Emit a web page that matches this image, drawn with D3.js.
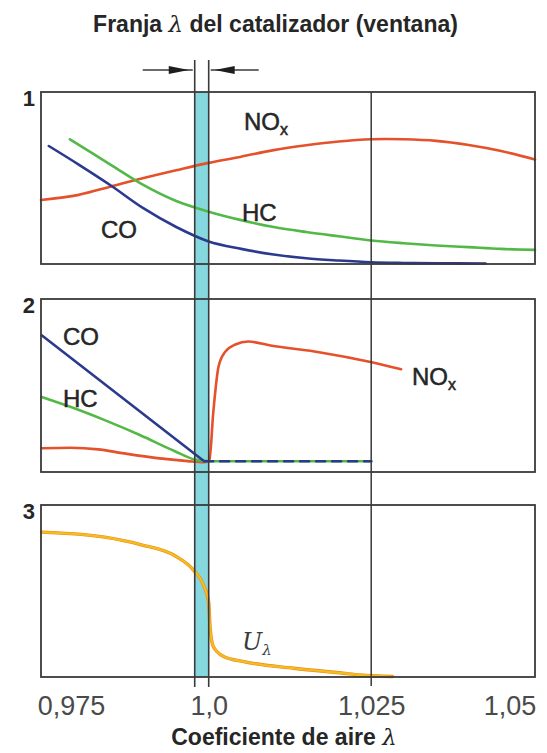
<!DOCTYPE html>
<html>
<head>
<meta charset="utf-8">
<script src="https://cdn.jsdelivr.net/npm/d3@7/dist/d3.min.js"></script>
<style>
  html, body { margin: 0; padding: 0; background: #ffffff; }
  svg { display: block; }
</style>
</head>
<body>
<svg id="chart" width="547" height="753"></svg>
<script>
// Air coefficient lambda: axis ticks and labels
const lambdaTicks = [0.975, 1.0, 1.025, 1.05];
const tickLabels = ["0,975", "1,0", "1,025", "1,05"];
const windowBand = [0.99785, 1.0];
const referenceLambda = 1.025;

// Panel 1: raw emissions before the catalyst (relative units, 0..1)
const p1NOx = [[0.9742,0.372],[0.98,0.402],[0.985,0.451],[0.99,0.500],[0.995,0.545],[1.0,0.588],[1.005,0.624],[1.01,0.662],[1.015,0.690],[1.02,0.712],[1.025,0.725],[1.03,0.725],[1.035,0.716],[1.04,0.692],[1.045,0.657],[1.0502,0.608]];
const p1CO  = [[0.9754,0.686],[0.98,0.578],[0.985,0.455],[0.99,0.323],[0.995,0.215],[1.0,0.131],[1.005,0.088],[1.01,0.055],[1.015,0.033],[1.02,0.020],[1.025,0.010],[1.03,0.006],[1.035,0.004],[1.0426,0.003]];
const p1HC  = [[0.97866,0.725],[0.985,0.575],[0.99,0.458],[0.995,0.366],[1.0,0.304],[1.005,0.255],[1.01,0.215],[1.015,0.186],[1.02,0.161],[1.025,0.137],[1.03,0.121],[1.035,0.108],[1.04,0.098],[1.045,0.088],[1.0502,0.082]];

// Panel 2: emissions after the catalyst
const p2CO      = [[0.9743,0.790],[0.9993,0.062]];
const p2Residue = [[0.9993,0.062],[1.025,0.062]];
const p2HC  = [[0.9743,0.434],[0.9787,0.377],[0.9840,0.300],[0.9894,0.214],[0.9948,0.120],[0.9980,0.070],[1.0,0.062]];
const p2NOx = [[0.9743,0.137],[0.9787,0.140],[0.9830,0.131],[0.9867,0.109],[0.9921,0.080],[0.9968,0.063],[0.9992,0.057],[1.0001,0.065],[1.0007,0.343],[1.0015,0.607],[1.0025,0.693],[1.0041,0.737],[1.0061,0.754],[1.0095,0.731],[1.0172,0.691],[1.0249,0.636],[1.0296,0.594]];

// Panel 3: lambda sensor voltage U
const p3U = [[0.9743,0.842],[0.9840,0.813],[0.9895,0.770],[0.9948,0.705],[0.9977,0.620],[0.9992,0.535],[1.0,0.433],[1.0002,0.294],[1.0007,0.177],[1.0023,0.119],[1.0054,0.089],[1.0131,0.051],[1.0207,0.022],[1.0233,0.012],[1.0283,0.003]];

const colors = { nox: "#e4512b", hc: "#52b947", co: "#2b3a8e", u: "#f2bd1f", uEdge: "#f08a1e", band: "#86d8df", frame: "#3a3a3a", text: "#262626" };

const svg = d3.select("#chart");
const x = d3.scaleLinear().domain([0.9742, 1.0502]).range([41, 535]);

const panels = [
  { id: "1", top: 92, bottom: 264 },
  { id: "2", top: 299, bottom: 472 },
  { id: "3", top: 505, bottom: 677 }
];
panels.forEach(p => { p.y = d3.scaleLinear().domain([0, 1]).range([p.bottom, p.top]); });

// window band, continuous through all three panels
svg.append("rect")
  .attr("x", x(windowBand[0])).attr("y", panels[0].top)
  .attr("width", x(windowBand[1]) - x(windowBand[0]))
  .attr("height", panels[2].bottom - panels[0].top)
  .attr("fill", colors.band);

// curves
function drawCurve(panel, data, color, width, curve, dash) {
  const line = d3.line()
    .x(d => x(d[0]))
    .y(d => panel.y(d[1]))
    .curve(curve);
  const path = svg.append("path")
    .datum(data)
    .attr("d", line)
    .attr("fill", "none")
    .attr("stroke", color)
    .attr("stroke-width", width)
    .attr("stroke-linecap", "round")
    .attr("stroke-linejoin", "round");
  if (dash) path.attr("stroke-dasharray", dash);
  return path;
}
const smooth = d3.curveCatmullRom.alpha(0.5);

drawCurve(panels[0], p1NOx, colors.nox, 2.6, smooth);
drawCurve(panels[0], p1HC, colors.hc, 2.6, smooth);
drawCurve(panels[0], p1CO, colors.co, 2.6, smooth);

drawCurve(panels[1], p2NOx, colors.nox, 2.6, d3.curveMonotoneX);
drawCurve(panels[1], p2HC, colors.hc, 2.6, d3.curveMonotoneX);
drawCurve(panels[1], p2CO, colors.co, 2.6, d3.curveLinear);
drawCurve(panels[1], p2Residue, colors.hc, 2.6, d3.curveLinear);
drawCurve(panels[1], p2Residue, colors.co, 2.6, d3.curveLinear, "9 7");

drawCurve(panels[2], p3U, colors.uEdge, 3.4, d3.curveMonotoneX);
drawCurve(panels[2], p3U, colors.u, 2.2, d3.curveMonotoneX);

// panel frames and numbers
panels.forEach(p => {
  svg.append("rect")
    .attr("x", x.range()[0]).attr("y", p.top)
    .attr("width", x.range()[1] - x.range()[0]).attr("height", p.bottom - p.top)
    .attr("fill", "none").attr("stroke", colors.frame).attr("stroke-width", 1.8);
  svg.append("text")
    .attr("x", 35).attr("y", p.top + 14)
    .attr("text-anchor", "end")
    .attr("font-family", "Liberation Sans, Arial, sans-serif")
    .attr("font-weight", "bold").attr("font-size", 22)
    .attr("fill", colors.text)
    .text(p.id);
});

// window edges and reference line
const topY = 60;
const lastBottom = panels[2].bottom;
windowBand.forEach(l => {
  svg.append("line")
    .attr("x1", x(l)).attr("x2", x(l))
    .attr("y1", topY).attr("y2", lastBottom + 10)
    .attr("stroke", colors.frame).attr("stroke-width", 1.6);
});
svg.append("line")
  .attr("x1", x(referenceLambda)).attr("x2", x(referenceLambda))
  .attr("y1", panels[0].top).attr("y2", lastBottom + 9)
  .attr("stroke", colors.frame).attr("stroke-width", 1.5);

// window arrows
const arrowY = 70;
function arrow(xTip, xTail) {
  const dir = Math.sign(xTip - xTail);
  svg.append("line")
    .attr("x1", xTail).attr("x2", xTip + dir * 4)
    .attr("y1", arrowY).attr("y2", arrowY)
    .attr("stroke", colors.frame).attr("stroke-width", 1.4);
  svg.append("path")
    .attr("d", `M${xTip},${arrowY} L${xTip - dir * 20},${arrowY - 4} L${xTip - dir * 20},${arrowY + 4} Z`)
    .attr("fill", "#1e1e1e");
}
arrow(x(windowBand[0]) - 6, x(windowBand[0]) - 52);
arrow(x(windowBand[1]) + 6, x(windowBand[1]) + 50);

// bottom axis
const axis = d3.axisBottom(x)
  .tickValues(lambdaTicks)
  .tickFormat((d, i) => tickLabels[i])
  .tickSize(0);
const gAxis = svg.append("g").call(axis);
gAxis.select(".domain").remove();
gAxis.selectAll(".tick text")
  .attr("y", 715).attr("dy", 0)
  .attr("font-family", "Liberation Sans, Arial, sans-serif")
  .attr("font-size", 27)
  .attr("fill", "#4a4a4a")
  .attr("text-anchor", (d, i) => i === 0 ? "start" : (i === lambdaTicks.length - 1 ? "end" : "middle"))
  .attr("dx", (d, i) => i === 0 ? -9 : (i === lambdaTicks.length - 1 ? 2 : 0));

// titles
function titleText(xc, y, before, after) {
  const t = svg.append("text")
    .attr("x", xc).attr("y", y)
    .attr("text-anchor", "middle")
    .attr("font-family", "Liberation Sans, Arial, sans-serif")
    .attr("font-weight", "bold").attr("font-size", 23)
    .attr("fill", colors.text);
  t.append("tspan").text(before);
  t.append("tspan").attr("font-family", "DejaVu Serif, serif").attr("font-style", "italic")
    .attr("font-weight", "normal").attr("font-size", 23).text("λ");
  if (after) t.append("tspan").text(after);
}
titleText(275.5, 32, "Franja ", " del catalizador (ventana)");
titleText(284, 745, "Coeficiente de aire ", "");

// series labels
function seriesLabel(xs, y, main, sub) {
  const t = svg.append("text")
    .attr("x", xs).attr("y", y)
    .attr("font-family", "Liberation Sans, Arial, sans-serif")
    .attr("font-size", 24)
    .attr("fill", colors.text)
    .attr("stroke", colors.text).attr("stroke-width", 0.5);
  t.append("tspan").text(main);
  if (sub) t.append("tspan").attr("font-size", 16).attr("dy", 5).text(sub);
}
seriesLabel(244, 130, "NO", "x");
seriesLabel(242, 221, "HC");
seriesLabel(101, 238, "CO");
seriesLabel(63, 345, "CO");
seriesLabel(63, 407, "HC");
seriesLabel(412, 385, "NO", "x");

// sensor voltage label
const uLabel = svg.append("text")
  .attr("x", 242).attr("y", 650)
  .attr("font-family", "DejaVu Serif, serif").attr("font-style", "italic")
  .attr("font-size", 24).attr("fill", "#3a3a3a");
uLabel.append("tspan").text("U");
uLabel.append("tspan").attr("font-size", 15).attr("dy", 5).text("λ");
</script>
</body>
</html>
